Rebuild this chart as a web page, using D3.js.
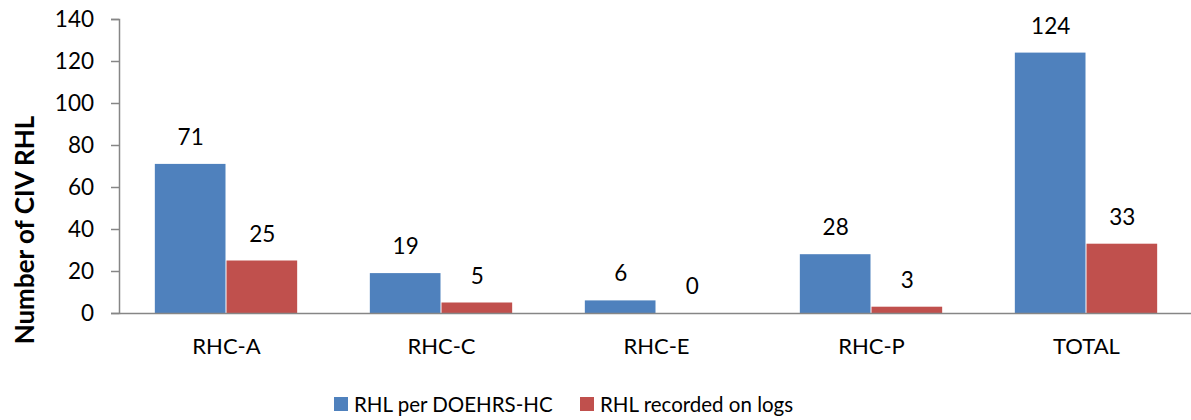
<!DOCTYPE html>
<html>
<head>
<meta charset="utf-8">
<script src="https://cdn.jsdelivr.net/npm/d3@7/dist/d3.min.js"></script>
<style>
  html, body { margin: 0; padding: 0; background: #fff; }
  svg { display: block; font-family: Lato, "Open Sans", "Liberation Sans", sans-serif; }
</style>
</head>
<body>
<svg id="chart" width="1191" height="420"></svg>
<script>
const categories = ["RHC-A", "RHC-C", "RHC-E", "RHC-P", "TOTAL"];
const seriesNames = ["RHL per DOEHRS-HC", "RHL recorded on logs"];
const doehrsValues = [71, 19, 6, 28, 124];
const logValues = [25, 5, 0, 3, 33];
const yTicks = [0, 20, 40, 60, 80, 100, 120, 140];
const colors = ["#4F81BD", "#C0504D"];
const axisTitle = "Number of CIV RHL";

const svg = d3.select("#chart");
const plotLeft = 119, plotRight = 1194, plotTop = 19, plotBottom = 313;

const x = d3.scaleBand().domain(categories).range([plotLeft, plotRight]).paddingInner(0).paddingOuter(0);
const inner = d3.scaleBand().domain(seriesNames).range([0, x.bandwidth() * 2 / 3]);
const y = d3.scaleLinear().domain([0, 140]).range([plotBottom, plotTop]);

// Y axis
const yAxis = svg.append("g")
  .attr("transform", `translate(${plotLeft},0)`)
  .call(d3.axisLeft(y).tickValues(yTicks).tickSize(8).tickPadding(17));
yAxis.select(".domain").attr("stroke", "#868686").attr("stroke-width", 1.5);
yAxis.selectAll(".tick line").attr("stroke", "#868686").attr("stroke-width", 1.5);
yAxis.selectAll(".tick text").attr("font-size", 22.5).attr("fill", "#000").attr("font-family", "Lato, 'Open Sans', sans-serif");

// Y axis title
svg.append("text")
  .attr("transform", `translate(34,230) rotate(-90)`)
  .attr("text-anchor", "middle")
  .attr("font-size", 26)
  .attr("font-weight", "bold")
  .attr("fill", "#000")
  .text(axisTitle);

// Bars
const rows = categories.map((c, i) => ({ cat: c, vals: [doehrsValues[i], logValues[i]] }));
const groups = svg.append("g").selectAll("g").data(rows).join("g")
  .attr("transform", d => `translate(${x(d.cat) + x.bandwidth() / 6},0)`);

groups.selectAll("rect").data(d => d.vals.map((v, j) => ({ v, j })))
  .join("rect")
  .attr("x", d => inner(seriesNames[d.j]))
  .attr("width", inner.bandwidth() - 1)
  .attr("y", d => y(d.v))
  .attr("height", d => plotBottom - y(d.v))
  .attr("fill", d => colors[d.j]);

groups.selectAll("text").data(d => d.vals.map((v, j) => ({ v, j })))
  .join("text")
  .attr("x", d => inner(seriesNames[d.j]) + inner.bandwidth() / 2)
  .attr("y", d => y(d.v) - 19)
  .attr("text-anchor", "middle")
  .attr("font-size", 22.5)
  .attr("fill", "#000")
  .text(d => d.v);

// X axis
const xAxis = svg.append("g")
  .attr("transform", `translate(0,${plotBottom})`)
  .call(d3.axisBottom(x).tickSize(0).tickPadding(25));
xAxis.select(".domain").attr("stroke", "#868686").attr("stroke-width", 1.5);
xAxis.selectAll(".tick text").attr("font-size", 22).attr("fill", "#000").attr("font-family", "Lato, 'Open Sans', sans-serif");

// Legend
const legendItems = [{ x: 334, name: seriesNames[0], c: colors[0] }, { x: 580, name: seriesNames[1], c: colors[1] }];
const legend = svg.append("g").selectAll("g").data(legendItems).join("g")
  .attr("transform", d => `translate(${d.x},397)`);
legend.append("rect").attr("width", 14).attr("height", 14).attr("fill", d => d.c);
legend.append("text").attr("x", 20).attr("y", 15).attr("font-size", 20.5).attr("fill", "#000").text(d => d.name);
</script>
</body>
</html>
